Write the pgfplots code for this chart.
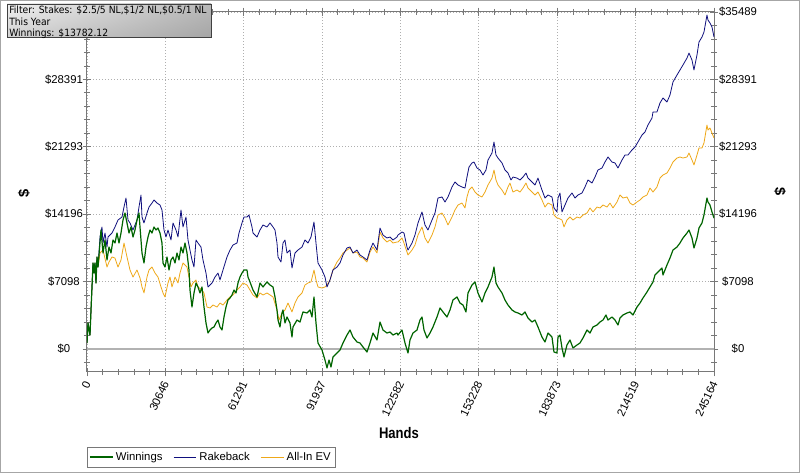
\documentclass[border=0pt]{standalone}
\usepackage{pgfplots}
\usepackage{pgfplotstable}
\pgfplotsset{compat=1.18}
\usetikzlibrary{shadings}
\usepackage{fontspec}
\setmainfont{Liberation Sans}
\newfontfamily\boxfont[FakeStretch=0.92]{DejaVu Sans}
\newfontfamily\narrowfont[FakeStretch=0.85]{Liberation Sans}
\definecolor{win}{RGB}{0,100,0}
\definecolor{rake}{RGB}{15,15,125}
\definecolor{ev}{RGB}{238,168,25}
\definecolor{axgray}{RGB}{120,120,120}
\definecolor{gridgray}{RGB}{175,175,175}

\pgfplotstableread{
x y
0 630
391 2740
782 2000
1173 1470
1564 4100
1955 6530
2346 9060
2737 8000
3128 9060
3519 6950
3910 9690
4301 8630
5083 11160
5474 12530
6256 10110
7038 11480
7820 9370
8602 10740
9384 10110
10166 11480
10948 11160
11730 12210
12512 11160
13294 12210
14076 13580
14858 14320
15640 13270
16422 12210
17204 12850
17986 11790
18768 12530
19550 13580
20332 14320
20723 12850
21505 10110
22287 9060
23069 10740
23851 11790
24633 12530
25415 12210
26197 12850
26979 12530
27761 12740
28543 12210
29325 11160
29716 9060
30498 8630
31280 9690
32062 8320
32844 9370
33626 9690
34408 9060
35190 10110
35972 9370
36754 10740
37536 10110
38318 11160
39100 10110
39882 8320
40273 6210
41055 4420
41837 5900
42619 6950
43401 6530
44183 5900
44965 6530
45747 4420
46529 2740
47311 1680
48093 2000
48875 2210
49657 2320
50439 2740
51221 3050
52003 2320
52785 2000
53567 3370
54349 4420
55131 5160
55913 5370
56695 5690
57477 6210
58259 5900
59041 6950
59823 7580
60605 8000
61387 8320
62560 8320
62951 7580
63733 7060
64906 6210
66470 5480
67643 6950
68816 6530
70380 7060
71553 6740
72726 6530
73508 5480
74290 4110
74681 3050
75463 2320
76245 3790
76636 4110
77418 2740
78200 3370
79373 2740
80155 1260
80546 2320
82110 3050
83283 2840
84456 3900
86020 3790
87193 4110
87975 3370
88757 5480
89539 2740
90321 630
91885 -110
93058 -1160
93840 -2000
94622 -1160
95404 -1900
96186 -840
97750 -420
98923 -110
100096 630
101660 1470
102833 2000
104006 1260
105570 740
106743 630
107916 210
109480 -320
110653 630
111826 1680
113390 950
114563 2840
115736 2000
117300 1680
118473 1790
119646 1470
121210 1680
121601 1470
123165 2000
124338 630
125511 -420
126293 950
127466 1680
129030 2000
130203 3050
130985 3370
131767 2000
132940 1160
134113 1680
135286 2320
136850 3370
138023 4320
139196 3900
140760 3370
141933 4110
143106 5160
144670 5480
145843 4840
147016 4630
148189 3900
148971 5900
150535 6740
151708 7060
152881 5900
154445 4950
155618 5900
156791 6530
158355 7580
159137 8630
159919 6950
160701 6530
162265 5900
163438 5160
164611 4630
166175 4110
167348 3900
168521 3790
170085 3580
171258 3900
172431 3260
173995 2840
175168 3050
176341 2320
177905 1260
179078 740
180251 1680
181815 1260
182597 -320
183770 -420
184161 1260
184943 1470
185725 110
186507 -840
187680 420
188853 950
190026 110
191590 420
192763 630
193936 1160
195500 2000
196673 1680
197846 2320
199410 2530
200583 2840
201756 3050
202929 3580
203711 3050
205275 3370
206448 3050
207621 2530
208403 3260
209576 3580
211140 3790
212313 3900
213486 3580
215050 4420
216223 4840
217396 5370
218960 6000
220133 6530
221306 7060
222088 7790
223261 8110
224825 8530
225216 7790
226780 8850
227953 9580
229126 10420
230690 10740
231863 11160
233036 11690
234600 12210
235382 12530
236555 11690
237337 10640
238510 11690
239292 12740
240465 13270
241247 14110
242420 15900
242811 15480
243593 15160
244375 14430
245164 13782
}\wintable

\pgfplotstableread{
x y
0 630
391 2740
782 2000
1173 1470
1564 4100
1955 6530
2346 9060
2737 8000
3128 9060
3519 6950
3910 9690
4301 8630
5083 11790
5865 12850
6256 11160
7038 12210
7820 10740
8211 11790
9775 12210
10948 12850
12121 13580
13685 13900
14467 14950
15249 15900
16031 13580
16813 13270
17986 12530
19550 13580
20332 14950
21114 16220
21505 13900
22287 13270
23460 14320
24242 14950
25415 15370
26197 15690
27370 15370
28543 15160
29325 14640
30107 12530
30889 11790
31671 12530
32844 11480
33626 13270
34799 12530
35581 11790
36754 14640
37536 12850
38709 13900
39491 11480
40273 10420
41055 9370
41837 8630
42619 11480
43401 11160
44574 10740
45356 9370
46529 8000
47311 6530
48875 6950
50048 7580
51221 8000
52003 7270
53176 8320
54740 9690
55913 10420
57086 10950
58650 11160
59432 12210
60605 13270
61387 13900
62560 13900
63342 14110
64515 12850
64906 12210
66470 11790
67643 12530
68816 13060
70380 12850
71553 13270
72726 12850
73508 12530
74290 11160
74681 9690
75854 9160
76636 11160
77418 11480
78200 10110
79373 10420
80155 8530
81328 10110
82501 10420
84065 10740
85238 11480
86411 11160
87584 11790
88757 13370
89539 11160
90321 9060
91885 8320
93058 7580
93840 6530
95013 7270
96186 8320
97750 8630
98923 9060
100096 9900
101660 10640
102833 10740
104006 10110
105570 10420
106743 9900
107916 9690
109480 9370
110653 10420
111826 11160
113390 10420
114563 12740
115736 12000
117300 11690
118473 11790
119646 11480
121210 11790
121601 12000
123165 12320
123947 12210
125120 10740
125511 10420
127075 11160
128248 12000
129421 13270
130985 14430
132158 13060
133331 12530
134895 13580
136068 14320
137241 15900
138805 16010
139978 15480
141151 16010
142715 17060
143888 17590
145061 17270
146625 17060
147798 16950
148580 18110
149362 19160
150535 19590
151317 19690
152490 19060
153663 18850
154836 18320
156009 18850
156791 19900
158355 20640
159137 21800
159919 20430
160701 20110
162265 19590
163438 18850
164611 18530
165784 17800
166566 18110
168130 18000
169303 17800
170476 18110
171649 18530
172431 18000
173995 17590
175168 17270
176341 18000
177905 16740
179078 15900
180251 16220
181815 16010
182597 14850
183770 14430
184161 15900
184943 16430
185725 14430
186898 15160
188071 15900
189635 16430
190808 15900
191981 16220
193545 16430
194718 17060
195891 17800
197455 17480
198628 18110
199801 18850
201365 19060
202538 19690
203711 20220
205275 19690
206448 19590
207621 19060
209185 19900
210358 20430
211531 20430
213095 20960
214268 21270
215441 21800
217005 22530
218178 22850
219351 23590
220915 24320
221306 24960
222870 24960
224043 25900
225216 26430
226780 26010
227953 26750
229126 28120
230690 28850
231863 29380
233036 29910
234600 30640
235382 31170
236555 30430
237337 29380
238510 30960
239292 32330
240465 32850
241247 33380
242420 35170
242811 34640
243593 34330
244375 33910
245164 32850
}\raketable

\pgfplotstableread{
x y
0 630
391 2740
782 2000
1173 1470
1564 4100
1955 6530
2346 9060
2737 8000
3128 9060
3519 6950
3910 9690
4301 8630
5083 10110
6256 10420
7820 8630
8602 9160
9775 9690
10948 9580
12121 8630
13294 9370
14467 11160
15640 9690
16813 8320
17986 7580
19550 8320
20723 7480
21505 6530
22287 5900
23460 7580
24242 8320
25415 8630
26588 8000
27761 7580
28934 6530
29716 5900
30498 5480
31671 6950
32453 7580
33235 6530
34408 7580
35581 6950
36363 8000
37536 9060
39100 8630
39882 7580
40664 6530
41446 6950
42619 7270
43401 6530
44965 6210
45747 5900
46920 4420
48093 4320
49266 4630
50830 4420
52003 4840
53176 4630
54740 5160
55913 5480
57086 5690
58650 6210
59823 6530
60996 6950
62560 6740
63733 6210
64906 5690
66470 5370
67643 5900
68816 5690
70380 5900
71553 5690
72726 5480
74290 4110
75072 3050
76245 3790
77418 4110
78591 4840
80155 3900
81328 4840
82501 5480
84065 5900
85238 6740
86411 6950
87584 7060
88757 8320
89539 7270
90321 6530
91885 6420
93058 6530
93840 6740
95013 7270
96186 8320
97750 9160
98923 9580
100096 10110
101660 10420
102833 10640
104006 10110
105570 10210
106743 9690
107916 9580
109480 9160
110653 10210
111826 10740
113390 10110
114563 12320
115736 11690
117300 11270
118473 11480
119646 11160
121210 11270
121601 11270
123165 11690
123947 11160
125511 9900
127075 10420
128248 10950
129421 12000
130985 12850
132158 11690
133331 11160
134895 12000
136068 12850
137241 14110
138805 14320
139978 13790
141151 13060
142715 13900
143888 14640
145061 15160
146625 15370
147798 14850
148580 16010
149362 16740
150535 17060
151708 16530
152881 16220
154445 16010
155618 16530
156791 17270
158355 18000
159137 18850
159919 17800
160701 17270
162265 16740
163438 16220
164611 17060
165393 17480
166566 16530
168130 16740
169303 16530
170476 16950
171649 17480
172431 16950
173995 16530
175168 16220
176341 16530
177905 15690
179078 14950
180251 15370
181815 15160
182597 14110
183770 13790
184161 13790
185725 13580
186507 12850
187680 13580
188853 13900
190026 13580
191590 13900
192763 13790
193936 14110
195500 14320
196673 14850
197846 14430
199410 14950
200583 14850
201756 15160
203320 14950
204493 15370
205666 14850
207230 15480
208403 16220
209576 15900
211140 16010
212313 15370
213486 15160
215050 15480
216223 15690
217396 16010
218960 16220
220133 16950
221306 16530
222870 17060
224043 18000
225216 18320
226780 18530
227953 19060
229126 19690
230690 20110
231863 20220
233036 20110
234600 20220
235382 20640
236555 19900
237337 19380
238510 20430
239292 21170
240465 21170
241247 21700
242420 23590
242811 23060
243593 23270
244375 22740
245164 22220
}\evtable

\begin{document}
\begin{tikzpicture}
\path[use as bounding box] (0,0) rectangle (600pt,354.75pt);
\begin{axis}[
  at={(65.25pt,75.75pt)}, anchor=south west,
  scale only axis, width=470.25pt, height=270pt,
  xmin=0, xmax=245164, ymin=-2422, ymax=35489,
  scaled x ticks=false, scaled y ticks=false,
  xtick={0,30646,61291,91937,122582,153228,183873,214519,245164},
  xticklabels={0,30646,61291,91937,122582,153228,183873,214519,245164},
  ytick={0,7098,14196,21293,28391,35489},
  yticklabels={\$0,\$7098,\$14196,\$21293,\$28391,{}},
  minor xtick={0,6129.1,...,245164},
  minor ytick={-1419.6,0,...,35489},
  xtick pos=both, ytick pos=both, yticklabel pos=left,
  tick align=center,
  major tick length=6.5pt, minor tick length=4.5pt,
  every tick/.style={axgray, line width=0.6pt},
  axis line style={axgray, line width=0.75pt},
  grid=major,
  major grid style={gridgray, line width=0.6pt, dash pattern=on 0.75pt off 1.5pt},
  tick label style={font=\fontsize{8.5}{10}\selectfont},
  yticklabel style={anchor=center, xshift=-14pt},
  xticklabel style={rotate=65, anchor=east, yshift=-2pt},
  legend style={at={(0,-0.2083)}, anchor=north west, legend columns=3,
    draw=axgray, font=\fontsize{8.5}{10}\selectfont, inner sep=1.5pt,
    /tikz/every even column/.append style={column sep=6pt}},
  legend cell align=left,
]
\addlegendimage{win, line width=0.9pt}\addlegendentry{Winnings}
\addlegendimage{rake, line width=0.6pt}\addlegendentry{Rakeback}
\addlegendimage{ev, line width=0.6pt}\addlegendentry{All-In EV}
\addplot[gray!60, line width=1.3pt, forget plot] coordinates {(0,0) (245164,0)};
\addplot[ev, line width=0.6pt, line join=round, forget plot] table[x=x,y=y] {\evtable};
\addplot[rake, line width=0.6pt, line join=round, forget plot] table[x=x,y=y] {\raketable};
\addplot[win, line width=0.9pt, line join=round, forget plot] table[x=x,y=y] {\wintable};
\end{axis}
\begin{axis}[
  at={(65.25pt,75.75pt)}, anchor=south west,
  scale only axis, width=470.25pt, height=270pt,
  xmin=0, xmax=245164, ymin=-2422, ymax=35489,
  scaled y ticks=false,
  hide x axis,
  axis y line*=right,
  y axis line style={draw=none},
  ytick={0,7098,14196,21293,28391,35489},
  yticklabels={\$0,\$7098,\$14196,\$21293,\$28391,\$35489},
  major tick length=0pt,
  tick label style={font=\fontsize{8.5}{10}\selectfont},
  yticklabel style={anchor=center, xshift=18pt},
]
\addplot[draw=none] coordinates {(0,0)};
\end{axis}
\begin{scope}[x=0.75pt,y=-0.75pt,yshift=354.75pt]
  \shade[upper left=gray!12, upper right=gray!55, lower left=gray!35, lower right=gray!70] (7,4) rectangle (211,37);
  \draw[gray!50!black, line width=0.6pt] (7,4) rectangle (211,37);
  \node[anchor=north west, inner sep=0pt, align=left, font=\boxfont\fontsize{7.5}{8.6}\selectfont] at (9,6)
    {Filter: Stakes: \$2.5/5 NL,\$1/2 NL,\$0.5/1 NL\\This Year\\Winnings: \$13782.12};
  \node[rotate=90, font=\bfseries\fontsize{11}{12}\selectfont] at (24,193) {\$};
  \node[rotate=-90, font=\bfseries\fontsize{11}{12}\selectfont] at (780,192) {\$};
  \node[font=\narrowfont\bfseries\fontsize{11.5}{13}\selectfont] at (399,433) {Hands};
  \draw[gray!70, line width=0.75pt] (0.5,0.5) rectangle (799.5,472.5);
\end{scope}
\end{tikzpicture}
\end{document}
